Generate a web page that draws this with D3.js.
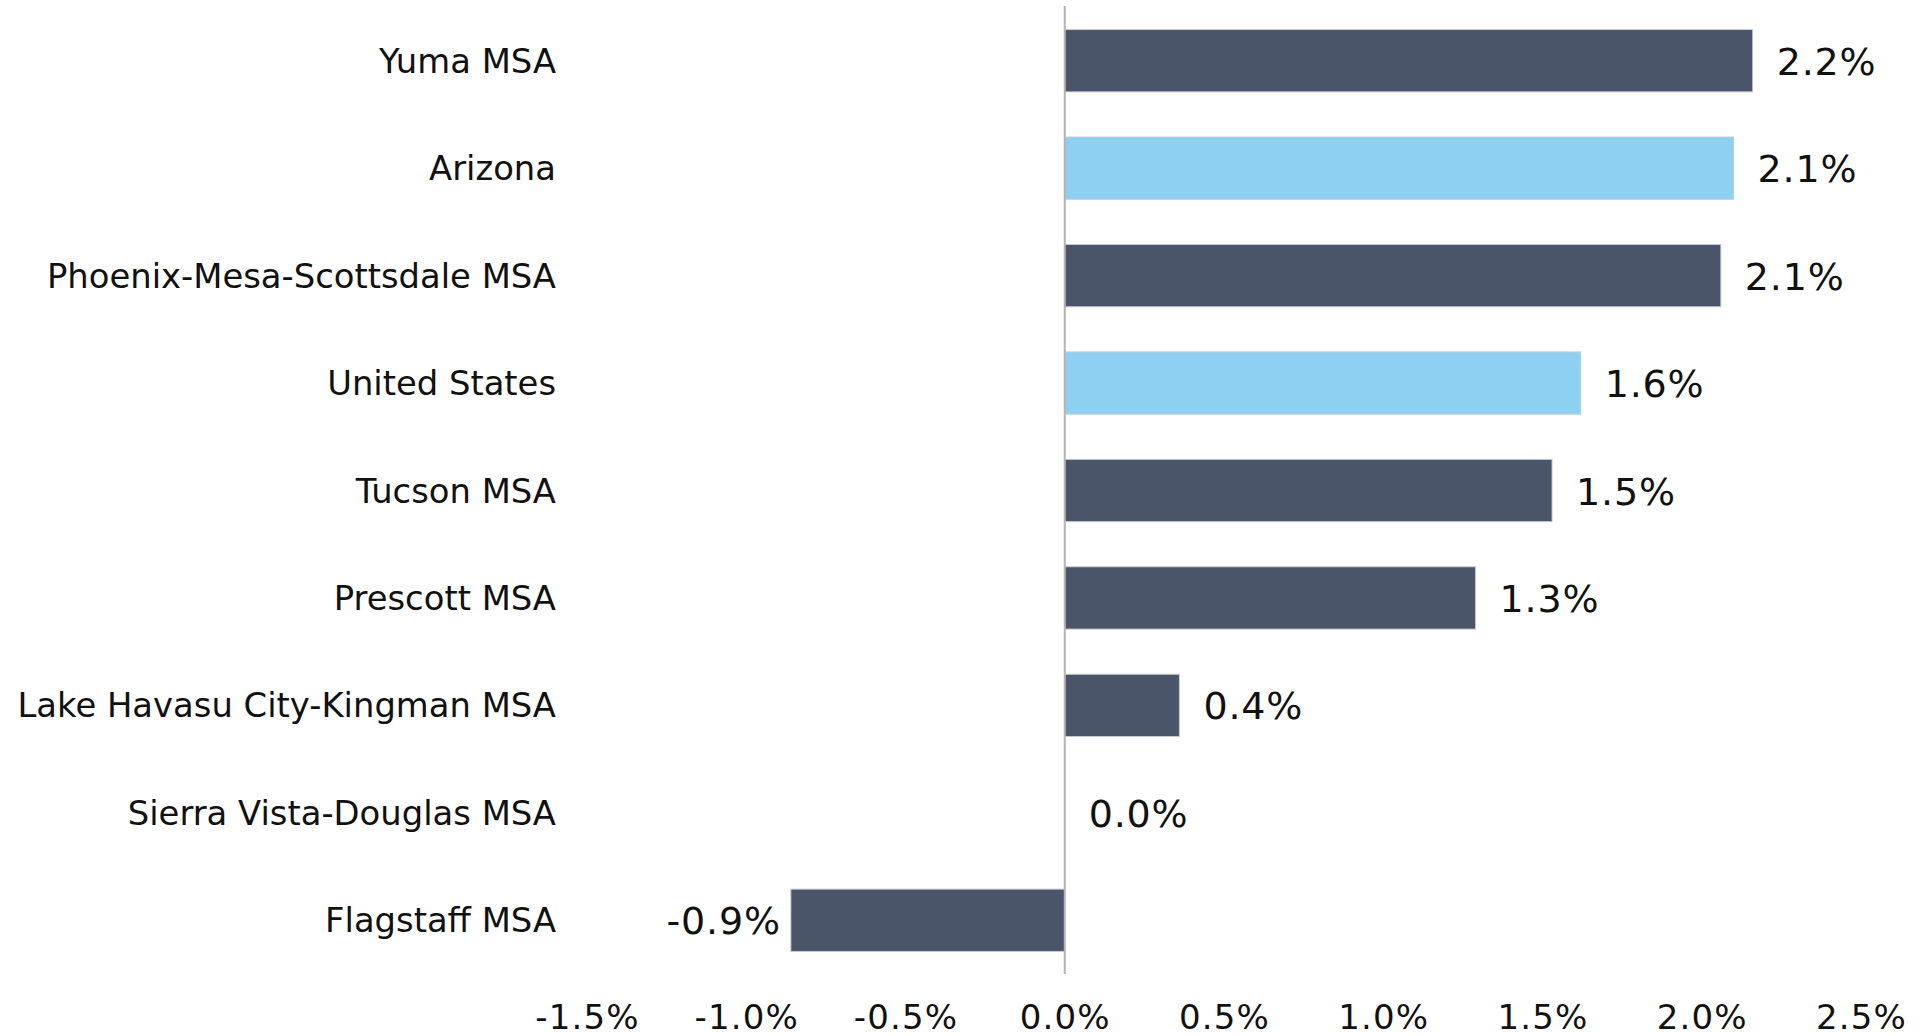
<!DOCTYPE html>
<html>
<head>
<meta charset="utf-8">
<script src="https://cdn.jsdelivr.net/npm/d3@7"></script>
<style>
  body { margin: 0; background: #fff; }
  text { font-family: "DejaVu Sans", Verdana, sans-serif; fill: #111; }
</style>
</head>
<body>
<div id="chart"></div>
<script>
// categories top to bottom
const categories = ['Yuma MSA', 'Arizona', 'Phoenix-Mesa-Scottsdale MSA', 'United States', 'Tucson MSA',
  'Prescott MSA', 'Lake Havasu City-Kingman MSA', 'Sierra Vista-Douglas MSA', 'Flagstaff MSA']
const values = [2.16, 2.10, 2.06, 1.62, 1.53, 1.29, 0.36, 0.0, -0.86]
const valueLabels = ['2.2%', '2.1%', '2.1%', '1.6%', '1.5%', '1.3%', '0.4%', '0.0%', '-0.9%']
const highlight = ['Arizona', 'United States']
const xTicks = [-1.5, -1.0, -0.5, 0.0, 0.5, 1.0, 1.5, 2.0, 2.5]

const width = 1921, height = 1036
const svg = d3.select('#chart').append('svg')
  .attr('width', width).attr('height', height)

const x = d3.scaleLinear().domain([-1.5, 2.5]).range([587, 1861])
const y = d3.scaleBand().domain(categories).range([7, 974]).paddingInner(0.42).paddingOuter(0.21)

// bars
svg.selectAll('rect.bar').data(categories).enter().append('rect')
  .attr('class', 'bar')
  .attr('x', (d, i) => x(Math.min(0, values[i])))
  .attr('y', d => y(d))
  .attr('width', (d, i) => Math.abs(x(values[i]) - x(0)))
  .attr('height', y.bandwidth())
  .attr('fill', d => highlight.includes(d) ? '#8ed0f2' : '#4a5569')
  .attr('stroke', (d, i) => values[i] === 0 ? 'none' : '#c8ccd2')
  .attr('stroke-width', 1)

// zero axis line
svg.append('line')
  .attr('x1', x(0)).attr('x2', x(0))
  .attr('y1', 6).attr('y2', 974)
  .attr('stroke', '#b4b4b4').attr('stroke-width', 2)

// category labels
svg.selectAll('text.cat').data(categories).enter().append('text')
  .attr('class', 'cat')
  .attr('x', 556)
  .attr('y', d => y(d) + y.bandwidth() / 2 + 12)
  .attr('text-anchor', 'end')
  .style('font-size', '33.8px')
  .text(d => d)

// value labels
svg.selectAll('text.val').data(categories).enter().append('text')
  .attr('class', 'val')
  .attr('x', (d, i) => values[i] < 0 ? x(values[i]) - 10 : x(values[i]) + 24)
  .attr('y', d => y(d) + y.bandwidth() / 2 + 14)
  .attr('text-anchor', (d, i) => values[i] < 0 ? 'end' : 'start')
  .style('font-size', '38px')
  .style('letter-spacing', '0.8px')
  .text((d, i) => valueLabels[i])

// x axis tick labels
const xAxis = d3.axisBottom(x).tickValues(xTicks).tickSize(0).tickPadding(0)
  .tickFormat(d => d.toFixed(1) + '%')
const ax = svg.append('g').attr('transform', 'translate(0,1000)').call(xAxis)
ax.select('.domain').remove()
ax.selectAll('text')
  .attr('dy', 0).attr('y', 29)
  .style('font-size', '34px')
  .style('letter-spacing', '1.2px')
  .style('font-family', '"DejaVu Sans", Verdana, sans-serif')
  .attr('fill', '#111')
</script>
</body>
</html>
